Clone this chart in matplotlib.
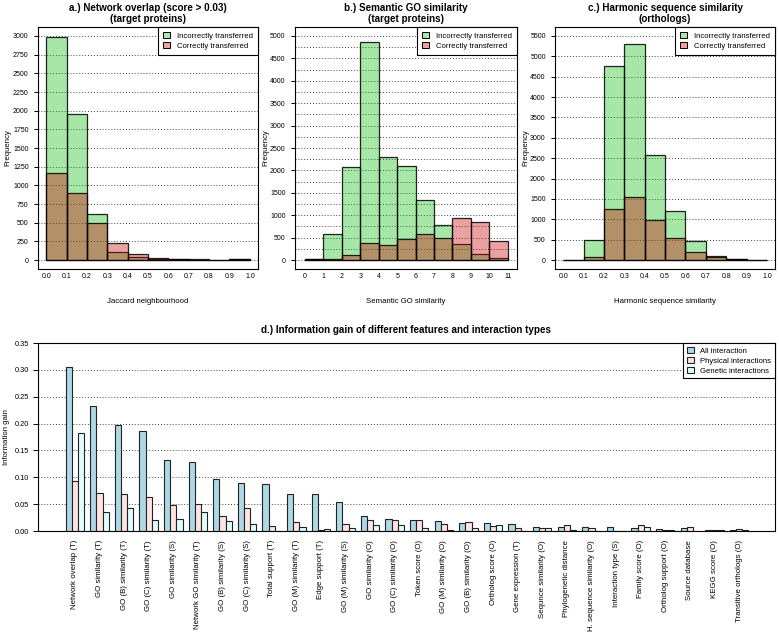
import numpy as np
import matplotlib.pyplot as plt
from matplotlib.patches import Patch

plt.rcParams['font.family'] = ['Liberation Sans', 'DejaVu Sans']

# a.) network overlap histogram
jaccard_edges = [0.0, 0.1, 0.2, 0.3, 0.4, 0.5, 0.6, 0.7, 0.8, 0.9, 1.0]
jaccard_incorrect = [2990, 1955, 622, 102, 35, 18, 12, 8, 2, 15]
jaccard_correct = [1164, 902, 502, 222, 84, 31, 12, 6, 1, 18]

# b.) semantic GO similarity histogram
go_edges = [0, 1, 2, 3, 4, 5, 6, 7, 8, 9, 10, 11]
go_incorrect = [20, 590, 2080, 4870, 2310, 2110, 1330, 790, 356, 133, 52]
go_correct = [20, 15, 120, 390, 333, 467, 578, 496, 930, 840, 430]

# c.) harmonic sequence similarity histogram
hss_edges = [0.0, 0.1, 0.2, 0.3, 0.4, 0.5, 0.6, 0.7, 0.8, 0.9, 1.0]
hss_incorrect = [5, 490, 4760, 5313, 2575, 1206, 473, 95, 20, 5]
hss_correct = [5, 65, 1263, 1548, 994, 530, 196, 65, 18, 3]

# d.) information gain
features = [
    "Network overlap (T)", "GO similarity (T)", "GO (B) similarity (T)",
    "GO (C) similarity (T)", "GO similarity (S)", "Network GO similarity (T)",
    "GO (B) similarity (S)", "GO (C) similarity (S)", "Total support (T)",
    "GO (M) similarity (T)", "Edge support (T)", "GO (M) similarity (S)",
    "GO similarity (O)", "GO (C) similarity (O)", "Token score (O)",
    "GO (M) similarity (O)", "GO (B) similarity (O)", "Ortholog score (O)",
    "Gene expression (T)", "Sequnce similarity (O)", "Phylogenetic distance",
    "H. sequence similarity (O)", "Interaction type (S)", "Family score (O)",
    "Ortholog support (O)", "Source database", "KEGG score (O)",
    "Transitive orthologs (O)"
]
gain_all = [0.306, 0.232, 0.198, 0.187, 0.132, 0.128, 0.096, 0.089, 0.087, 0.068,
            0.068, 0.054, 0.028, 0.023, 0.020, 0.019, 0.0145, 0.0145, 0.0125, 0.008,
            0.008, 0.008, 0.007, 0.006, 0.0045, 0.005, 0.001, 0.001]
gain_physical = [0.094, 0.070, 0.068, 0.064, 0.049, 0.051, 0.0275, 0.042, 0.010, 0.016,
                 0.0025, 0.014, 0.020, 0.020, 0.020, 0.014, 0.016, 0.009, 0.005, 0.005,
                 0.011, 0.006, 0.0, 0.011, 0.0025, 0.0075, 0.001, 0.003]
gain_genetic = [0.182, 0.036, 0.042, 0.021, 0.023, 0.035, 0.018, 0.0125, 0.0, 0.007,
                0.0045, 0.006, 0.011, 0.012, 0.006, 0.0025, 0.006, 0.011, 0.0, 0.005,
                0.002, 0.0, 0.0, 0.007, 0.0025, 0.0, 0.001, 0.001]

GREEN = (0.0, 0.72, 0.0, 0.35)
RED = (0.78, 0.0, 0.0, 0.37)
EDGE = (0, 0, 0, 0.85)
DOT = (0, (1, 2))
TICK = 5.0
LAB = 5.6
TFS = 7.1


def hist_panel(rect, edges, incorrect, correct, title, xlabel, xlim, ylim, yticks, grid, ylab_x):
    ax = fig.add_axes(rect)
    edges = np.array(edges, dtype=float)
    widths = np.diff(edges)
    for g in grid:
        ax.axhline(g, color='#444444', linestyle=DOT, linewidth=0.7, zorder=0)
    ax.bar(edges[:-1], incorrect, width=widths, align='edge', color=GREEN,
           edgecolor=EDGE, linewidth=0.9, zorder=2)
    ax.bar(edges[:-1], correct, width=widths, align='edge', color=RED,
           edgecolor=EDGE, linewidth=0.9, zorder=3)
    ax.set_xlim(*xlim)
    ax.set_ylim(*ylim)
    ax.set_xticks(edges)
    if edges[-1] <= 1.0:
        ax.set_xticklabels(['%.1f' % e for e in edges])
    else:
        ax.set_xticklabels(['%d' % e for e in edges])
    ax.set_yticks(yticks)
    ax.tick_params(axis='x', length=0, pad=3, labelsize=TICK)
    ax.tick_params(axis='y', length=3, width=0.7, pad=3.7, labelsize=TICK)
    for s in ax.spines.values():
        s.set_linewidth(0.8)
    ax.set_title(title, fontsize=TFS, fontweight='bold', pad=3.5, linespacing=1.1)
    ax.set_xlabel(xlabel, fontsize=LAB)
    ax.xaxis.set_label_coords(0.5, -0.12)
    ax.set_ylabel('Frequency', fontsize=LAB)
    ax.yaxis.set_label_coords(ylab_x, 0.5)
    handles = [Patch(facecolor=GREEN, edgecolor='black', linewidth=0.7),
               Patch(facecolor=RED, edgecolor='black', linewidth=0.7)]
    leg = ax.legend(handles, ['Incorrectly transferred', 'Correctly transferred'],
                    loc='upper right', fontsize=LAB, borderaxespad=0, fancybox=False,
                    handlelength=0.9, handleheight=0.9, handletextpad=1.0,
                    borderpad=0.6, labelspacing=0.3, framealpha=1)
    leg.get_frame().set_edgecolor('black')
    leg.get_frame().set_linewidth(0.8)
    return ax


fig = plt.figure(figsize=(7.79, 6.33), dpi=100)

hist_panel([0.0488, 0.575, 0.2824, 0.3823], jaccard_edges, jaccard_incorrect, jaccard_correct,
           'a.) Network overlap (score > 0.03)\n(target proteins)', 'Jaccard neighbourhood',
           (-0.04, 1.04), (-120, 3120), np.arange(0, 3001, 250), np.arange(0, 3001, 250), -0.123)
hist_panel([0.3787, 0.575, 0.285, 0.3823], go_edges, go_incorrect, go_correct,
           'b.) Semantic GO similarity\n(target proteins)', 'Semantic GO similarity',
           (-0.54, 11.5), (-200, 5200), np.arange(0, 5001, 500), np.arange(0, 5001, 250), -0.117)
hist_panel([0.7125, 0.575, 0.2824, 0.3823], hss_edges, hss_incorrect, hss_correct,
           'c.) Harmonic sequence similarity\n(orthologs)', 'Harmonic sequence similarity',
           (-0.04, 1.04), (-220, 5720), np.arange(0, 5501, 500), np.arange(0, 5501, 500), -0.118)

# d.) grouped bars
ax = fig.add_axes([0.0488, 0.1611, 0.946, 0.297])
for g in np.arange(0.05, 0.31, 0.05):
    ax.axhline(g, color='#444444', linestyle=DOT, linewidth=0.7, zorder=0)
pos = np.arange(len(features)) * 4
bar_kw = dict(width=1.0, align='edge', edgecolor='#222222', linewidth=0.8, zorder=2)
ax.bar(pos + 1, gain_all, color='#ADD8E6', label='All interaction', **bar_kw)
ax.bar(pos + 2, gain_physical, color='#FFE4E1', label='Physical interactions', **bar_kw)
ax.bar(pos + 3, gain_genetic, color='#E0FFFF', label='Genetic interactions', **bar_kw)
ax.set_xlim(-3.5, 116.34)
ax.set_ylim(0, 0.35)
ax.set_xticks(pos + 2.5)
ax.set_xticklabels(features, rotation=90)
ax.set_yticks(np.arange(0, 0.351, 0.05))
ax.set_yticklabels(['%.2f' % v for v in np.arange(0, 0.351, 0.05)])
ax.tick_params(axis='x', length=0, pad=6.5, labelsize=5.7)
ax.tick_params(axis='y', length=3.5, width=0.7, pad=3, labelsize=5.3)
for s in ax.spines.values():
    s.set_linewidth(0.8)
ax.set_title('d.) Information gain of different features and interaction types',
             fontsize=TFS, fontweight='bold', pad=7)
ax.set_ylabel('Information gain', fontsize=LAB)
ax.yaxis.set_label_coords(-0.038, 0.5)
leg = ax.legend(loc='upper right', fontsize=LAB, borderaxespad=0, fancybox=False,
                handlelength=0.9, handleheight=0.9, handletextpad=0.8,
                borderpad=0.5, labelspacing=0.25, framealpha=1)
leg.get_frame().set_edgecolor('black')
leg.get_frame().set_linewidth(0.8)

fig.savefig('out.png', dpi=100)
